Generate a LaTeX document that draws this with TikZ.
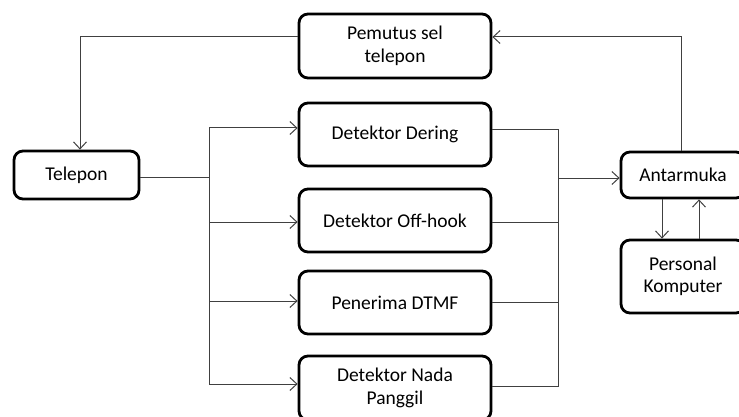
\documentclass[tikz,border=0pt]{standalone}
\usepackage{fontspec}
\setmainfont{Carlito}
\usetikzlibrary{arrows.meta}
\begin{document}
\begin{tikzpicture}[x=1pt,y=-1pt,
  box/.style={draw, line width=2.8pt, rounded corners=9pt, inner sep=0pt, align=center,
    font=\fontsize{19.5}{22.5}\selectfont},
  conn/.style={line width=1pt, draw=black!75},
  arr/.style={conn, -{Straight Barb[length=7pt,width=13pt]}}]
\useasboundingbox (0,0) rectangle (739,417);
% boxes
\node[box, minimum width=192pt, minimum height=64pt] (pem) at (395,46) {Pemutus sel\\telepon};
\node[box, minimum width=192pt, minimum height=63pt] (der) at (395,134.5) {Detektor Dering};
\node[box, minimum width=192pt, minimum height=63pt] (off) at (395,220.5) {Detektor Off-hook};
\node[box, minimum width=192pt, minimum height=63pt] (dtm) at (395,302.5) {Penerima DTMF};
\node[box, minimum width=192pt, minimum height=64pt] (nad) at (395,388) {Detektor Nada\\Panggil};
\node[box, minimum width=125pt, minimum height=48pt] (tel) at (76.5,175) {Telepon};
\node[box, minimum width=124pt, minimum height=46pt] (ant) at (683,175) {Antarmuka};
\node[box, minimum width=124pt, minimum height=73pt] (pc) at (683,276.5) {Personal\\Komputer};
% coordinates
\coordinate (tl) at (80,37);
\coordinate (ar) at (681,37);
\coordinate (b1) at (209,177);
\coordinate (lt) at (209,128);
\coordinate (l2) at (209,222);
\coordinate (l3) at (209,301);
\coordinate (lb) at (209,384);
\coordinate (rt) at (558,130);
\coordinate (r2) at (558,222);
\coordinate (r3) at (558,302);
\coordinate (rb) at (558,386);
\coordinate (rm) at (558,178);
\coordinate (dn) at (662,0);
\coordinate (up) at (699,0);
% connectors
\draw[arr] (pem.west |- tl) -- (tl) -- (tel.north -| tl);
\draw[arr] (ant.north -| ar) -- (ar) -- (pem.east |- ar);
\draw[conn] (tel.east |- b1) -- (b1);
\draw[conn] (lt) -- (lb);
\draw[arr] (lt) -- (der.west |- lt);
\draw[arr] (l2) -- (off.west |- l2);
\draw[arr] (l3) -- (dtm.west |- l3);
\draw[arr] (lb) -- (nad.west |- lb);
\draw[conn] (der.east |- rt) -- (rt) -- (rb) -- (nad.east |- rb);
\draw[conn] (off.east |- r2) -- (r2);
\draw[conn] (dtm.east |- r3) -- (r3);
\draw[arr] (rm) -- (ant.west |- rm);
\draw[arr] (ant.south -| dn) -- (pc.north -| dn);
\draw[arr] (pc.north -| up) -- (ant.south -| up);
\end{tikzpicture}
\end{document}
